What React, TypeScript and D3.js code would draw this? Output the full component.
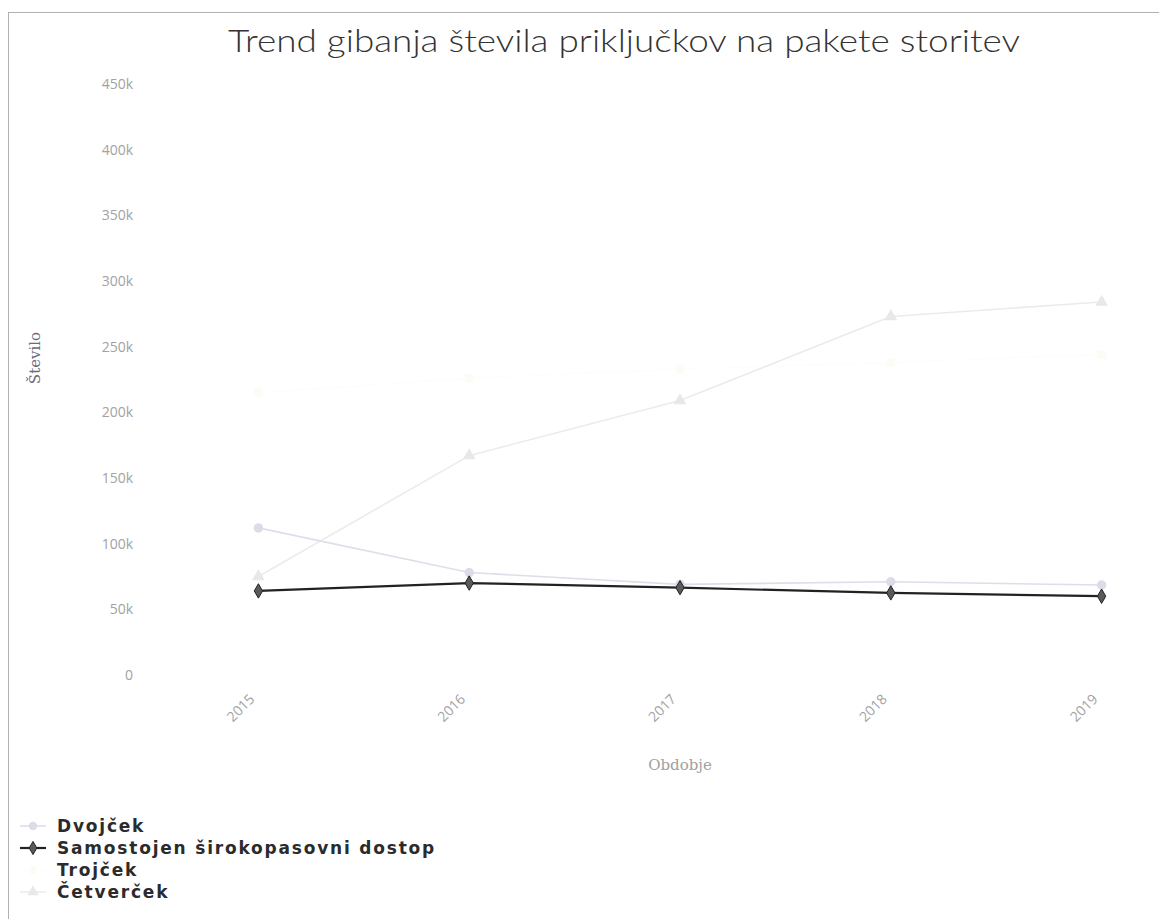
import { useEffect, useRef } from 'react';
import * as d3 from 'd3';

const title = 'Trend gibanja števila priključkov na pakete storitev';
const years = ['2015', '2016', '2017', '2018', '2019'];
const yTicks = [0, 50000, 100000, 150000, 200000, 250000, 300000, 350000, 400000, 450000];

const dvojcek = [112000, 78000, 69000, 71000, 68500];
const samostojen = [64000, 70000, 66500, 62500, 60000];
const trojcek = [215000, 226000, 233000, 238000, 244000];
const cetvercek = [75000, 167000, 209000, 273000, 284000];

const seriesNames = ['Dvojček', 'Samostojen širokopasovni dostop', 'Trojček', 'Četverček'];
const seriesColors = ['#dedeea', '#222222', '#fdfdf9', '#ebebeb'];
const markerFills = ['#dcdce9', '#5a5a5a', '#fcfcf6', '#e8e8e8'];
const markerTypes = [d3.symbolCircle, d3.symbolDiamond, d3.symbolSquare, d3.symbolTriangle];

function App() {
    const svgRef = useRef<SVGSVGElement>(null);

    useEffect(() => {
        const svg = d3.select(svgRef.current);
        svg.selectAll('*').remove();

        const width = 1159;
        const height = 919;

        // frame of the scanned chart
        svg.append('rect')
            .attr('x', 8.5).attr('y', 12.5)
            .attr('width', width).attr('height', height)
            .attr('fill', '#fff')
            .attr('stroke', '#b0b0b0')
            .attr('stroke-width', 1);

        const x = d3.scalePoint<string>()
            .domain(years)
            .range([153, 1207])
            .padding(0.5);

        const y = d3.scaleLinear()
            .domain([0, 450000])
            .range([675, 84]);

        svg.append('text')
            .attr('x', 624)
            .attr('y', 52)
            .attr('text-anchor', 'middle')
            .attr('font-family', 'Lato, "Open Sans", sans-serif')
            .attr('font-weight', 300)
            .attr('font-size', 31)
            .attr('fill', '#333')
            .attr('textLength', 792)
            .attr('lengthAdjust', 'spacingAndGlyphs')
            .text(title);

        // y axis labels
        const fmt = (v: number) => (v === 0 ? '0' : `${v / 1000}k`);
        svg.append('g')
            .selectAll('text')
            .data(yTicks)
            .join('text')
            .attr('x', 133)
            .attr('y', d => y(d) + 5)
            .attr('text-anchor', 'end')
            .attr('font-family', '"Open Sans", sans-serif')
            .attr('font-size', 14)
            .attr('fill', '#a2a2a2')
            .text(fmt);

        svg.append('text')
            .attr('transform', 'translate(40,358) rotate(-90)')
            .attr('text-anchor', 'middle')
            .attr('font-family', '"DejaVu Serif", serif')
            .attr('font-size', 15)
            .attr('fill', '#6a6a78')
            .text('Število');

        // x axis labels
        svg.append('g')
            .selectAll('text')
            .data(years)
            .join('text')
            .attr('transform', d => `translate(${x(d)! - 3},700) rotate(-45)`)
            .attr('text-anchor', 'end')
            .attr('font-family', '"Open Sans", sans-serif')
            .attr('font-size', 14)
            .attr('fill', '#a2a2a2')
            .text(d => d);

        svg.append('text')
            .attr('x', 680)
            .attr('y', 770)
            .attr('text-anchor', 'middle')
            .attr('font-family', '"DejaVu Serif", serif')
            .attr('font-size', 15)
            .attr('fill', '#a0a0a0')
            .text('Obdobje');

        const allSeries = [dvojcek, samostojen, trojcek, cetvercek];
        const line = d3.line<number>()
            .x((_, i) => x(years[i])!)
            .y(d => y(d));

        // draw lighter series first, dark one on top
        const order = [2, 3, 0, 1];
        order.forEach(si => {
            const values = allSeries[si];
            svg.append('path')
                .datum(values)
                .attr('fill', 'none')
                .attr('stroke', seriesColors[si])
                .attr('stroke-width', si === 1 ? 2.2 : 1.6)
                .attr('d', line);

            svg.append('g')
                .selectAll('path')
                .data(values)
                .join('path')
                .attr('transform', (d, i) => `translate(${x(years[i])},${y(d)})`)
                .attr('d', d3.symbol().type(markerTypes[si]).size(si === 1 ? 60 : 70))
                .attr('fill', markerFills[si])
                .attr('stroke', si === 1 ? '#222' : 'none')
                .attr('stroke-width', 1);
        });

        // legend
        const legend = svg.append('g');
        seriesNames.forEach((name, i) => {
            const cy = 826 + i * 22;
            legend.append('line')
                .attr('x1', 20).attr('x2', 46)
                .attr('y1', cy).attr('y2', cy)
                .attr('stroke', seriesColors[i])
                .attr('stroke-width', i === 1 ? 2.2 : 1.6);
            legend.append('path')
                .attr('transform', `translate(33,${cy})`)
                .attr('d', d3.symbol().type(markerTypes[i]).size(i === 1 ? 50 : 55))
                .attr('fill', markerFills[i])
                .attr('stroke', i === 1 ? '#222' : 'none');
            legend.append('text')
                .attr('x', 57)
                .attr('y', cy + 6)
                .attr('font-family', '"DejaVu Sans", sans-serif')
                .attr('font-weight', 'bold')
                .attr('font-size', 17)
                .attr('letter-spacing', 1.8)
                .attr('fill', '#2b2b2b')
                .text(name);
        });
    }, []);

    return (
        <svg
            ref={svgRef}
            width="1159"
            height="919"
            style={{ position: 'absolute', left: 0, top: 0, background: '#fff' }}
        />
    );
}

export default App;
